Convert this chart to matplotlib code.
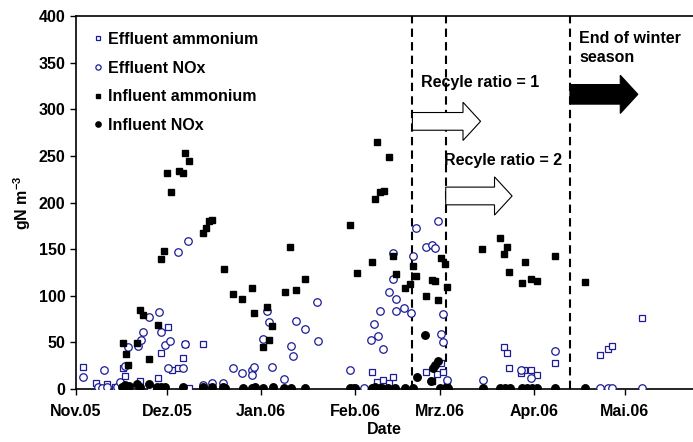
import matplotlib
matplotlib.use("Agg")
import matplotlib.pyplot as plt
import matplotlib.dates as mdates
from matplotlib.patches import FancyArrow
import numpy as np
from datetime import datetime

plt.rcParams['font.family'] = 'Liberation Sans'
plt.rcParams['font.weight'] = 'bold'
plt.rcParams['mathtext.fontset'] = 'custom'
plt.rcParams['mathtext.rm'] = 'Liberation Sans:bold'
plt.rcParams['mathtext.bf'] = 'Liberation Sans:bold'

# sampling days counted from 1 Nov 2005, concentrations in gN m-3
eff_nh4_day = [2.4, 6.6, 10.1, 12.9, 15.4, 16.2, 21.1, 24.5, 27.2, 28.1, 30.3, 31.6, 33.8, 35.2, 36, 37.3, 42,
               97.8, 99.2, 101.4, 103.4, 104.5, 115.4, 119.2, 120.5, 121.2, 122.3,
               141.2, 142.1, 143, 147, 147.9, 150.2, 152, 158.1, 172.9, 175.7, 176.8, 186.7]
eff_nh4_val = [24, 6, 5.3, 2.5, 22.5, 14, 8.9, 2, 11.4, 38.9, 66.7, 20.5, 22.8, 33.2, 48, 1.5, 47.8,
               18.5, 7.8, 9.6, 6.8, 13.2, 17.9, 16, 27.5, 18.5, 8.6,
               45.3, 38.2, 22.8, 17.5, 20.3, 20.3, 15, 27.5, 36.4, 42.5, 46.3, 76.3]

eff_nox_day = [2.4, 7.4, 8.5, 9.3, 10.3, 13.4, 14.5, 16, 17.3, 20.3, 21.3, 22.2, 24.2, 27.3, 28.1, 29.4,
               30.3, 31, 33.8, 35.2, 36, 37, 42, 44.8, 48.6, 51.9, 54.9, 58, 58, 58.8, 61.8, 62.9,
               63.7, 64.8, 68.7, 70.8, 71.7, 72.6, 75.6, 79.6, 79.7, 90.4, 91.5, 95, 97.5, 98.3,
               99.6, 100.3, 101.4, 103.4, 104.5, 104.7, 105.5, 105.5, 108.3, 110.4, 111.3, 112.2,
               115.4, 117.4, 118.3, 119.4, 120.4, 121.2, 121.2, 122.3, 134.2, 147, 150.2, 158.1,
               172.9, 175.7, 176.8, 186.7]
eff_nox_val = [12.5, 2, 1.5, 20.3, 2, 2, 7.8, 24.6, 44.6, 46, 53, 61, 77.3, 82.6, 60.8, 47,
               22, 51.4, 147, 22, 48, 158.4, 4, 6, 6, 22, 17.5, 20, 15, 23.9, 53.7, 83.5,
               72, 23.9, 10.4, 45.8, 35, 72.8, 64.4, 92.9, 51.7, 20.3, 1, 1, 52.4, 69.5,
               57, 84, 42.6, 103.6, 146, 117.7, 97, 83.7, 86.7, 81, 142.3, 172.6,
               152.5, 154.6, 151, 179.8, 58.9, 80.5, 50.6, 9.6, 9.6, 20, 12, 41,
               1.4, 1.4, 1.4, 1.4]

inf_nh4_day = [15.4, 16.4, 17.3, 20.2, 21.1, 22.2, 24.2, 27.2, 28.1, 29.1, 30.1, 31.3, 34.1, 35.2, 36.1,
               37.2, 42, 42.9, 43.9, 45, 48.9, 51.9, 54.9, 58, 58.8, 61.8, 63, 63.7, 64.8, 68.8,
               70.6, 72.6, 75.7, 90.5, 92.6, 97.8, 98.5, 99.4, 100.3, 101.5, 103.4, 104.7, 105.5,
               108.4, 110.2, 111.3, 112.3, 115.4, 117.4, 117.4, 118.5, 119.4, 120.4, 121.6, 122.3,
               134.1, 139.9, 141.2, 142.1, 142.9, 147.1, 148, 150.2, 152, 158.1, 167.8]
inf_nh4_val = [49, 37.5, 26, 49, 84.5, 79, 32.4, 69, 139, 148, 231.5, 211.5, 233.6, 231.5, 253,
               245, 167.7, 173, 180, 180.8, 129, 102, 96, 108, 81, 45, 88, 53, 67.8, 104,
               152, 106.7, 117.7, 175.5, 124.5, 136.6, 203.6, 265, 210.8, 212, 249, 143, 123.4,
               108.4, 113, 131.6, 121, 99.5, 117.4, 8.7, 116.3, 95.2, 140, 134.5, 109.5,
               149.8, 162, 145, 152, 126, 113.7, 136, 117.7, 115.5, 142.3, 114.8]

inf_nox_day = [15.1, 16.2, 17.6, 20, 21.1, 24.1, 26.8, 28, 29.4, 35.4, 42, 44.8, 48.6, 49.2, 55.2, 58,
               59.1, 61.8, 64.9, 68.6, 70.9, 75.6, 90.4, 92.1, 97.6, 98.5, 100.3, 100.9, 103.1, 105.3,
               108.6, 111.1, 112.4, 115.2, 117, 117.9, 118.5, 119.4, 120.1, 121.8, 122.9, 134.4,
               140, 141.6, 143.2, 147.1, 148.7, 150.4, 152, 158.1, 167.8]
inf_nox_val = [2, 4, 3, 5, 2, 5, 2, 2, 2, 2, 2, 2, 2, 1, 1, 1,
               2, 1, 2, 1, 1, 1, 1, 1, 1, 2, 1, 1, 1, 1,
               1, 1, 13.2, 57.8, 8.9, 22, 25.7, 30, 1, 1, 1, 1,
               1, 1, 1, 1, 1, 1, 1, 1, 1]

month_labels = ["Nov.05", "Dez.05", "Jan.06", "Feb.06", "Mrz.06", "Apr.06", "Mai.06"]
month_starts = [datetime(2005, 11, 1), datetime(2005, 12, 1), datetime(2006, 1, 1), datetime(2006, 2, 1),
                datetime(2006, 3, 1), datetime(2006, 4, 1), datetime(2006, 5, 1)]
# dates of operational changes (recycle ratio 1, recycle ratio 2, end of winter)
event_dates = [datetime(2006, 2, 20), datetime(2006, 3, 3), datetime(2006, 4, 13)]

t0 = mdates.date2num(datetime(2005, 11, 1))
def to_num(days):
    return t0 + np.array(days, dtype=float)

blue = '#1c1c96'
fs = 11.5

fig = plt.figure(figsize=(6.93, 4.42), dpi=100)
ax = fig.add_axes([0.1097, 0.1199, 0.8903, 0.8439])

ms = 5
ax.plot(to_num(eff_nh4_day), eff_nh4_val, 's', ms=ms, mfc='white', mec=blue, mew=0.9,
        label='Effluent ammonium', zorder=3)
ax.plot(to_num(eff_nox_day), eff_nox_val, 'o', ms=ms + 0.4, mfc='white', mec=blue, mew=0.9,
        label='Effluent NOx', zorder=3)
ax.plot(to_num(inf_nh4_day), inf_nh4_val, 's', ms=ms, mfc='black', mec='black',
        label='Influent ammonium', zorder=4)
ax.plot(to_num(inf_nox_day), inf_nox_val, 'o', ms=ms + 0.4, mfc='black', mec='black',
        label='Influent NOx', zorder=4)

for d in event_dates:
    ax.axvline(mdates.date2num(d), color='black', linestyle=(0, (4, 2.5)), linewidth=1.5, zorder=2)

e = [mdates.date2num(d) for d in event_dates]
ax.add_patch(FancyArrow(e[0], 287, 22.5, 0, width=19, head_width=41, head_length=5.8,
                        length_includes_head=True, facecolor='white', edgecolor='black', lw=0.8, zorder=5))
ax.add_patch(FancyArrow(e[1], 207, 21.9, 0, width=19, head_width=41, head_length=5.8,
                        length_includes_head=True, facecolor='white', edgecolor='black', lw=0.8, zorder=5))
ax.add_patch(FancyArrow(e[2], 316, 22.4, 0, width=21, head_width=41, head_length=5.8,
                        length_includes_head=True, facecolor='black', edgecolor='black', lw=0.8, zorder=5))

ax.text(e[0] + 3.0, 329, 'Recyle ratio = 1', fontsize=fs, fontweight='bold', va='center')
ax.text(e[1] - 0.6, 245, 'Recyle ratio = 2', fontsize=fs, fontweight='bold', va='center')
ax.text(e[2] + 3.0, 384, 'End of winter\nseason', fontsize=fs, fontweight='bold', va='top',
        linespacing=1.3)

ax.set_xlim(t0, t0 + 203.6)
ax.set_ylim(0, 400)
ax.set_xticks([mdates.date2num(d) for d in month_starts])
ax.set_xticklabels(month_labels)
ax.set_yticks(np.arange(0, 401, 50))
ax.tick_params(axis='both', direction='out', length=4, labelsize=fs, width=1)
for lab in ax.get_xticklabels() + ax.get_yticklabels():
    lab.set_fontweight('bold')
ax.tick_params(axis='x', pad=7)
ax.spines['right'].set_visible(False)
for s in ['left', 'bottom', 'top']:
    ax.spines[s].set_linewidth(1.2)

ax.set_xlabel('Date', fontsize=fs, fontweight='bold', labelpad=2)
ax.set_ylabel(r'gN m$^{-3}$', fontsize=fs, fontweight='bold', labelpad=4)

ax.legend(loc='upper left', bbox_to_anchor=(0.0, 1.0), frameon=False, fontsize=fs,
          markerscale=0.7, handlelength=0.7, handletextpad=0.3, labelspacing=0.85,
          borderaxespad=0.6)

fig.savefig('out.png', dpi=100)
